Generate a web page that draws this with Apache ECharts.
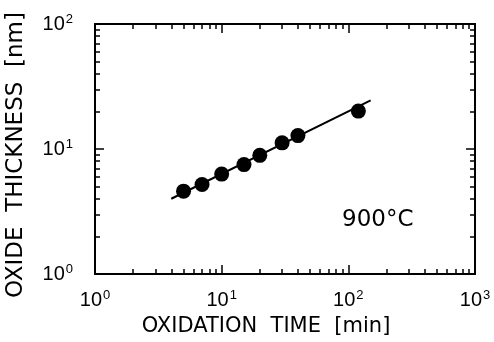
<!DOCTYPE html>
<html>
<head>
<meta charset="utf-8">
<script src="https://cdn.jsdelivr.net/npm/echarts@6/dist/echarts.min.js"></script>
<style>
html, body { margin: 0; padding: 0; background: #fff; }
#chart { width: 494px; height: 342px; }
</style>
</head>
<body>
<div id="chart"></div>
<script>
// measured points, 900 C
var timeMin = [5, 7, 10, 15, 20, 30, 40, 120];
var thicknessNm = [4.6, 5.2, 6.3, 7.5, 8.9, 11.2, 12.8, 20.1];
// fitted line end points as drawn
var fitTime = [4, 150];
var fitThickness = [4.0, 24.5];

var xMajor = [1, 10, 100, 1000];
var xMinor = [2, 3, 4, 5, 6, 7, 8, 9, 20, 30, 40, 50, 60, 70, 80, 90, 200, 300, 400, 500, 600, 700, 800, 900];
var yMajor = [1, 10, 100];
var yMinor = [2, 3, 4, 5, 6, 7, 8, 9, 20, 30, 40, 50, 60, 70, 80, 90];
var expLabels = { 1: '0', 10: '1', 100: '2', 1000: '3' };

var font = 'Liberation Sans, Arial, sans-serif';
var titleFont = 'DejaVu Sans, sans-serif';
var box = { left: 95, right: 19, top: 24, bottom: 68, outerBoundsMode: 'none' };

function axis(grid, pos, min, max, ticks, len, labels) {
    return {
        type: 'log',
        logBase: 10,
        gridIndex: grid,
        min: min,
        max: max,
        position: pos,
        axisLine: { show: true, onZero: false, lineStyle: { color: '#000', width: 2 } },
        axisTick: { show: true, inside: true, length: len, customValues: ticks, lineStyle: { color: '#000', width: 1.5 } },
        axisLabel: {
            show: labels,
            customValues: ticks,
            margin: pos == 'left' ? 22 : 15,
            formatter: function (v) { return '{b|10}{s|' + expLabels[v] + '}'; },
            rich: {
                b: { fontFamily: font, fontSize: 20, color: '#000' },
                s: { fontFamily: font, fontSize: 13, color: '#000', padding: [0, 0, 10, 1] }
            }
        },
        splitLine: { show: false },
        minorTick: { show: false }
    };
}

var chart = echarts.init(document.getElementById('chart'));
var option = {
    animation: false,
    grid: [box, Object.assign({}, box)],
    xAxis: [
        Object.assign(axis(0, 'bottom', 1, 1000, xMajor, 9, true), {
            name: 'OXIDATION  TIME  [min]',
            nameLocation: 'middle',
            nameGap: 42,
            nameTextStyle: { fontFamily: titleFont, fontSize: 21, color: '#000', padding: [0, 38, 0, 0] }
        }),
        axis(0, 'top', 1, 1000, xMajor, 9, false),
        axis(1, 'bottom', 1, 1000, xMinor, 5, false),
        axis(1, 'top', 1, 1000, xMinor, 5, false)
    ],
    yAxis: [
        Object.assign(axis(0, 'left', 1, 100, yMajor, 9, true), {
            name: 'OXIDE  THICKNESS  [nm]',
            nameLocation: 'middle',
            nameGap: 67,
            nameTextStyle: { fontFamily: titleFont, fontSize: 23, color: '#000', padding: [0, 12, 0, 0] }
        }),
        axis(0, 'right', 1, 100, yMajor, 9, false),
        axis(1, 'left', 1, 100, yMinor, 5, false),
        axis(1, 'right', 1, 100, yMinor, 5, false)
    ],
    graphic: [{
        type: 'text',
        left: 342,
        top: 209,
        style: { text: '900°C', fontFamily: titleFont, fontSize: 23, fill: '#000' }
    }],
    series: [
        {
            type: 'line',
            xAxisIndex: 0,
            yAxisIndex: 0,
            data: fitTime.map(function (t, i) { return [t, fitThickness[i]]; }),
            symbol: 'none',
            lineStyle: { color: '#000', width: 2 },
            z: 2
        },
        {
            type: 'scatter',
            xAxisIndex: 0,
            yAxisIndex: 0,
            data: timeMin.map(function (t, i) { return [t, thicknessNm[i]]; }),
            symbol: 'circle',
            symbolSize: 15,
            itemStyle: { color: '#000', opacity: 1 },
            z: 3
        }
    ]
};
chart.setOption(option);
</script>
</body>
</html>
